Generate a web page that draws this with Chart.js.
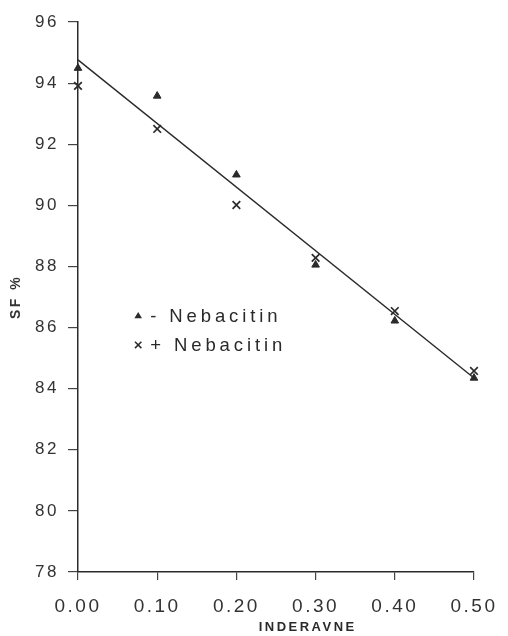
<!DOCTYPE html>
<html>
<head>
<meta charset="utf-8">
<script src="https://cdn.jsdelivr.net/npm/chart.js@4"></script>
<style>
  html, body { margin: 0; padding: 0; background: #fff; }
  #wrap { width: 508px; height: 636px; }
</style>
</head>
<body>
<div id="wrap"><canvas id="sfChart"></canvas></div>
<script>
// concentrations on the x axis
const xValues = [0.0, 0.1, 0.2, 0.3, 0.4, 0.5];
// SF % without / with Nebacitin
const minusNebacitin = [94.49, 93.58, 91.0, 88.05, 86.22, 84.35];
const plusNebacitin = [93.91, 92.5, 90.01, 88.28, 86.54, 84.58];
// fitted line end points
const fitX = [0.0, 0.5];
const fitY = [94.76, 84.35];
// tick labels
const xTicks = [0.0, 0.1, 0.2, 0.3, 0.4, 0.5];
const yTicks = [78, 80, 82, 84, 86, 88, 90, 92, 94, 96];
const legendLabels = ['- Nebacitin', '+ Nebacitin'];

const ink = '#2a2a2a';
const fontFamily = '"Liberation Sans", Arial, Helvetica, sans-serif';

const toPoints = (xs, ys) => xs.map((x, i) => ({ x: x, y: ys[i] }));

function drawTriangle(ctx, x, y, r) {
  ctx.beginPath();
  ctx.moveTo(x, y - r);
  ctx.lineTo(x + r * 0.95, y + r * 0.6);
  ctx.lineTo(x - r * 0.95, y + r * 0.6);
  ctx.closePath();
  ctx.fill();
}

function drawCross(ctx, x, y, r) {
  ctx.beginPath();
  ctx.moveTo(x - r, y - r);
  ctx.lineTo(x + r, y + r);
  ctx.moveTo(x + r, y - r);
  ctx.lineTo(x - r, y + r);
  ctx.stroke();
}

// spaced-out lettering like the original print
const spacingPlugin = {
  id: 'spacing',
  beforeDraw(chart) {
    chart.ctx.letterSpacing = '2.5px';
  }
};

// legend inside the plot area + x axis caption
const notesPlugin = {
  id: 'notes',
  afterDraw(chart) {
    const { ctx, scales: { x, y } } = chart;
    const lx = x.getPixelForValue(0.076);
    const ly = y.getPixelForValue(86.38);
    ctx.save();
    ctx.fillStyle = ink;
    ctx.strokeStyle = ink;
    ctx.lineWidth = 1.5;
    ctx.letterSpacing = '3.9px';
    ctx.font = '18.5px ' + fontFamily;
    ctx.textBaseline = 'middle';
    ctx.textAlign = 'left';
    legendLabels.forEach((label, i) => {
      const yy = ly + i * 29;
      if (i === 0) drawTriangle(ctx, lx, yy, 4);
      else drawCross(ctx, lx, yy, 3.2);
      ctx.fillText(label, lx + 12, yy + 1);
    });

    ctx.letterSpacing = '2.5px';
    ctx.font = 'bold 13px ' + fontFamily;
    ctx.textAlign = 'center';
    ctx.fillText('INDERAVNE', x.getPixelForValue(0.29), chart.height - 9);
    ctx.restore();
  }
};

new Chart(document.getElementById('sfChart'), {
  type: 'scatter',
  data: {
    datasets: [
      {
        label: 'fit',
        data: toPoints(fitX, fitY),
        showLine: true,
        borderColor: ink,
        borderWidth: 1.4,
        pointRadius: 0,
        clip: false,
      },
      {
        label: legendLabels[0],
        data: toPoints(xValues, minusNebacitin),
        pointStyle: 'triangle',
        pointRadius: 4.4,
        backgroundColor: ink,
        borderColor: ink,
        borderWidth: 1,
        clip: false,
      },
      {
        label: legendLabels[1],
        data: toPoints(xValues, plusNebacitin),
        pointStyle: 'crossRot',
        pointRadius: 5.4,
        borderColor: ink,
        borderWidth: 1.7,
        clip: false,
      },
    ],
  },
  options: {
    responsive: true,
    maintainAspectRatio: false,
    animation: false,
    layout: {
      padding: { left: 0, right: 34, top: 22, bottom: 0 },
    },
    scales: {
      x: {
        type: 'linear',
        min: 0,
        max: 0.5,
        afterBuildTicks(scale) {
          scale.ticks = xTicks.map(v => ({ value: v }));
        },
        afterFit(scale) {
          scale.height = 64;
        },
        ticks: {
          color: '#333',
          font: { family: fontFamily, size: 19 },
          padding: 15,
          maxRotation: 0,
          callback: v => Number(v).toFixed(2),
        },
        grid: {
          drawOnChartArea: false,
          drawTicks: true,
          tickLength: 8,
          color: '#444',
          lineWidth: 1.2,
        },
        border: { display: true, color: ink, width: 1.5 },
      },
      y: {
        type: 'linear',
        min: 78,
        max: 96,
        afterBuildTicks(scale) {
          scale.ticks = yTicks.map(v => ({ value: v }));
        },
        afterFit(scale) {
          scale.width = 78;
        },
        ticks: {
          color: '#333',
          font: { family: fontFamily, size: 17 },
          padding: 9,
        },
        grid: {
          drawOnChartArea: false,
          drawTicks: true,
          tickLength: 10,
          color: '#444',
          lineWidth: 1.2,
        },
        border: { display: true, color: ink, width: 1.5 },
        title: {
          display: true,
          text: 'SF %',
          color: '#333',
          font: { family: fontFamily, size: 14, weight: 'bold' },
          padding: { top: 8, bottom: 0 },
        },
      },
    },
    plugins: {
      legend: { display: false },
      tooltip: { enabled: false },
    },
  },
  plugins: [spacingPlugin, notesPlugin],
});
</script>
</body>
</html>
